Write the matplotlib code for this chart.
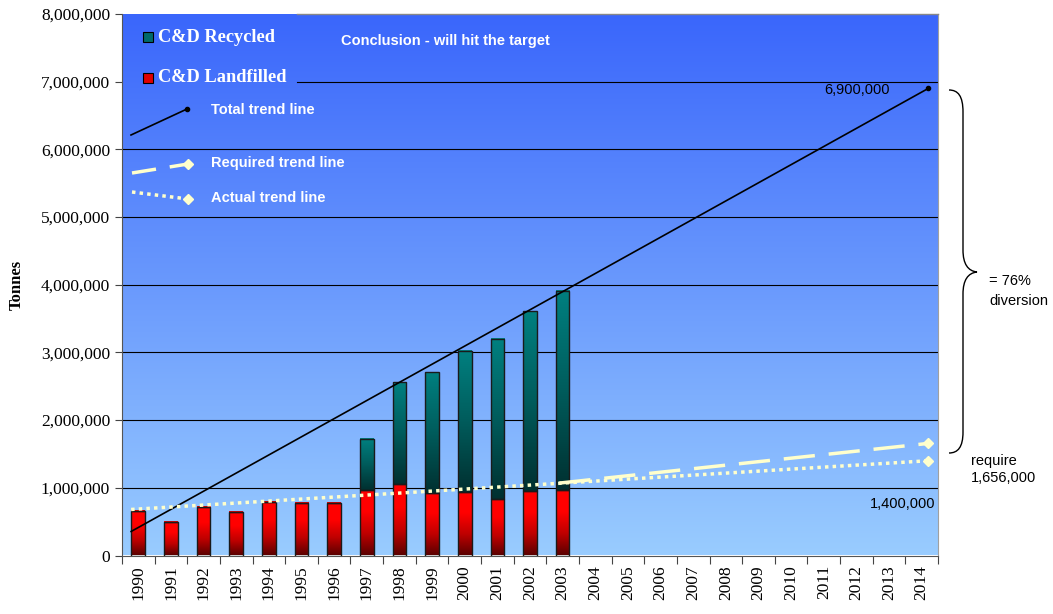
import numpy as np
import matplotlib.pyplot as plt
from matplotlib.colors import LinearSegmentedColormap
from matplotlib.lines import Line2D
from matplotlib.patches import PathPatch
from matplotlib.path import Path

# Anos e tonelagens
anos = list(range(1990, 2015))
aterro = [660000, 490000, 715000, 640000, 790000, 770000, 770000,
          965000, 1055000, 930000, 935000, 840000, 955000, 965000]
total = [660000, 490000, 715000, 640000, 790000, 770000, 770000,
         1720000, 2560000, 2710000, 3025000, 3205000, 3610000, 3905000]
reciclado = [t - a for t, a in zip(total, aterro)]

# Linhas de tendência (posição em índice de categoria, valor)
tend_total_x = [-0.22, 24.2]
tend_total_y = [355000, 6900000]
tend_req_x = [12.9, 24.2]
tend_req_y = [1070000, 1656000]
tend_real_x = [-0.22, 24.2]
tend_real_y = [680000, 1400000]

plt.rcParams['font.family'] = 'Liberation Serif'

W, H = 1053, 614
fig = plt.figure(figsize=(W / 100, H / 100), dpi=100)
ax = fig.add_axes([122 / W, 1 - 555.5 / H, 816 / W, 541.5 / H])


def px(x, y):
    # pixel (origem no topo) -> fração da figura
    return x / W, 1 - y / H


# Fundo em degradê
fundo = LinearSegmentedColormap.from_list('fundo', ['#99ccff', '#3a66fb'])
ax.imshow(np.linspace(0, 1, 256).reshape(-1, 1)[::-1], cmap=fundo,
          extent=[0, 1, 0, 1], transform=ax.transAxes, aspect='auto', zorder=0)

# Linhas de grade
for v in range(1000000, 8000000, 1000000):
    xmin = 0.214 if v == 7000000 else 0
    ax.axhline(v, xmin=xmin, color='black', lw=0.8, zorder=1)

cm_verm = LinearSegmentedColormap.from_list('verm', ['#5c0000', '#c00000', '#ff0000', '#ff0000'])
cm_teal = LinearSegmentedColormap.from_list('teal', ['#003030', '#005c5c', '#008080'])
grad = np.linspace(0, 1, 128).reshape(-1, 1)[::-1]

x = np.arange(len(aterro))
largura = 0.42
barras_a = ax.bar(x, aterro, width=largura, facecolor='none', edgecolor='#1a1a1a', lw=1, zorder=3)
barras_r = ax.bar(x, reciclado, bottom=aterro, width=largura, facecolor='none',
                  edgecolor='#1a1a1a', lw=1, zorder=3)
for barras, cm in [(barras_a, cm_verm), (barras_r, cm_teal)]:
    for b in barras:
        if b.get_height() <= 0:
            continue
        x0, y0 = b.get_x(), b.get_y()
        ax.imshow(grad, cmap=cm, extent=[x0, x0 + b.get_width(), y0, y0 + b.get_height()],
                  aspect='auto', zorder=2)

# Tendências
ax.plot(tend_total_x, tend_total_y, color='black', lw=1.2, zorder=4)
ax.plot(tend_total_x[-1], tend_total_y[-1], 'o', color='black', ms=3, zorder=4)
ax.plot(tend_req_x, tend_req_y, color='#ffffcc', lw=2.5, dashes=(9, 4), zorder=4)
ax.plot(tend_req_x[-1], tend_req_y[-1], 'D', color='#ffffcc', ms=5, zorder=4)
ax.plot(tend_real_x, tend_real_y, color='#ffffcc', lw=2.5, dashes=(1, 1.2), zorder=4)
ax.plot(tend_real_x[-1], tend_real_y[-1], 'D', color='#ffffcc', ms=5, zorder=4)

ax.set_xlim(-0.5, len(anos) - 0.5)
ax.set_ylim(0, 8000000)
ax.set_yticks(range(0, 8000001, 1000000))
ax.set_yticklabels([f'{v:,}' for v in range(0, 8000001, 1000000)], fontsize=12.5)
ax.set_xticks(np.arange(len(anos) + 1) - 0.5)
ax.set_xticklabels([])
ax.set_xticks(np.arange(len(anos)), minor=True)
ax.set_xticklabels([str(a) for a in anos], minor=True, rotation=90, fontsize=12.5)
ax.tick_params(axis='x', which='minor', length=0, pad=7)
ax.tick_params(axis='x', which='major', length=6, color='#444444')
ax.tick_params(axis='y', length=5, color='#444444')
ax.set_ylabel('Tonnes', fontsize=12, fontweight='bold', labelpad=12)

ax.spines['top'].set_visible(False)
ax.spines['right'].set_color('#a0a0a0')
ax.spines['left'].set_color('#555555')
ax.spines['bottom'].set_color('#555555')
ax.plot([0.214, 1], [1, 1], transform=ax.transAxes, color='#888888', lw=1, clip_on=False, zorder=5)

# Legenda desenhada à mão
branco = 'white'
for (cx, cy), cor, rot in [((148, 37), '#006a6a', 'C&D Recycled'),
                           ((148, 78), '#e00000', 'C&D Landfilled')]:
    fx, fy = px(cx, cy)
    fig.add_artist(Line2D([fx], [fy], marker='s', ms=7.5, color=cor, mec='black', mew=0.8, lw=0))
    fig.text(*px(158, cy), rot, color=branco, fontsize=13.2, fontweight='bold', va='center')

amostras = [((131, 135), (187, 109), 'black', 1.2, None, 'o', 3, 'Total trend line', 110),
            ((132, 173), (188, 164), '#ffffcc', 2.5, (7, 4), 'D', 5, 'Required trend line', 163),
            ((132, 192), (188, 199), '#ffffcc', 2.5, (1, 1.2), 'D', 5, 'Actual trend line', 198)]
for p0, p1, cor, lw, tr, mk, ms, rot, ty in amostras:
    (x0, y0), (x1, y1) = px(*p0), px(*p1)
    ln = Line2D([x0, x1], [y0, y1], color=cor, lw=lw)
    if tr:
        ln.set_dashes(tr)
    fig.add_artist(ln)
    fig.add_artist(Line2D([x1], [y1], marker=mk, ms=ms, color=cor, lw=0))
    fig.text(*px(211, ty), rot, color=branco, fontsize=10.5, fontweight='bold',
             family='Liberation Sans', va='center')

fig.text(*px(341, 41), 'Conclusion - will hit the target', color=branco, fontsize=10.5,
         fontweight='bold', family='Liberation Sans', va='center')

# Rótulos de valores
ax.annotate('6,900,000', (tend_total_x[-1], tend_total_y[-1]), xytext=(-38, -2),
            textcoords='offset pixels', ha='right', va='center', fontsize=10.5,
            family='Liberation Sans')
ax.annotate('1,400,000', (tend_real_x[-1], tend_real_y[-1]), xytext=(7, -43),
            textcoords='offset pixels', ha='right', va='center', fontsize=10.5,
            family='Liberation Sans')
ax.annotate('require\n1,656,000', (tend_req_x[-1], tend_req_y[-1]), xytext=(43, -26),
            textcoords='offset pixels', ha='left', va='center', fontsize=10.5,
            family='Liberation Sans', annotation_clip=False, linespacing=1.3)
fig.text(*px(989, 291), '= 76%\ndiversion', fontsize=10.5, family='Liberation Sans',
         va='center', linespacing=1.6)

# Chave à direita
pts = [(949, 90), (958, 90), (963, 96), (963, 112), (963, 250),
       (963, 264), (968, 271), (977, 272), (968, 273), (963, 280), (963, 294),
       (963, 432), (963, 447), (958, 453), (949, 453)]
cods = [Path.MOVETO, Path.CURVE4, Path.CURVE4, Path.CURVE4, Path.LINETO,
        Path.CURVE4, Path.CURVE4, Path.CURVE4, Path.CURVE4, Path.CURVE4, Path.CURVE4,
        Path.LINETO, Path.CURVE4, Path.CURVE4, Path.CURVE4]
chave = Path([px(*p) for p in pts], cods)
fig.add_artist(PathPatch(chave, transform=fig.transFigure, fill=False, lw=1, color='black'))

fig.savefig('out.png', dpi=100)
